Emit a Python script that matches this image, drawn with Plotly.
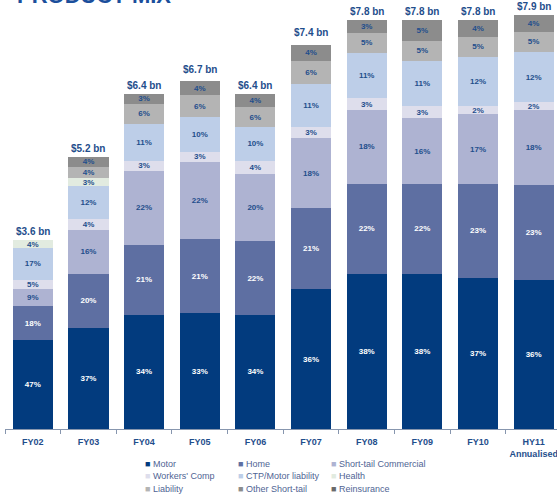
import plotly.graph_objects as go

categories = ["FY02", "FY03", "FY04", "FY05", "FY06", "FY07", "FY08", "FY09", "FY10", "HY11<br>Annualised"]
totals_bn = [3.6, 5.2, 6.4, 6.7, 6.4, 7.4, 7.8, 7.8, 7.8, 7.9]

series_names = ["Motor", "Home", "Short-tail Commercial", "Workers' Comp", "CTP/Motor liability",
                "Health", "Liability", "Other Short-tail", "Reinsurance"]
motor = [47, 37, 34, 33, 34, 36, 38, 38, 37, 36]
home = [18, 20, 21, 21, 22, 21, 22, 22, 23, 23]
short_tail_commercial = [9, 16, 22, 22, 20, 18, 18, 16, 17, 18]
workers_comp = [5, 4, 3, 3, 4, 3, 3, 3, 2, 2]
ctp = [17, 12, 11, 10, 10, 11, 11, 11, 12, 12]
health = [4, 3, 0, 0, 0, 0, 0, 0, 0, 0]
liability = [0, 4, 6, 6, 6, 6, 5, 5, 5, 5]
other_short_tail = [0, 4, 3, 4, 4, 4, 3, 5, 4, 4]
reinsurance = [0, 0, 0, 0, 0, 0, 0, 0, 0, 0]

series_values = [motor, home, short_tail_commercial, workers_comp, ctp, health,
                 liability, other_short_tail, reinsurance]
colors = ["#023B7E", "#5E6FA2", "#AEB3D2", "#DEDEEC", "#BDCEE8", "#E2EBE0",
          "#B4B4B4", "#8C8C8C", "#6A6A6A"]
label_colors = ["#FFFFFF", "#FFFFFF"] + ["#1F4E8C"] * 7

FONT = "Liberation Sans, Arial, sans-serif"
DARK_BLUE = "#1F4E8C"

fig = go.Figure()
for name, vals, col, lcol in zip(series_names, series_values, colors, label_colors):
    heights = [v / 100 * t for v, t in zip(vals, totals_bn)]
    fig.add_trace(go.Bar(
        x=categories, y=heights, name=name,
        marker=dict(color=col, line=dict(width=0)),
        text=[f"{v}%" if v > 0 else "" for v in vals],
        textposition="inside", insidetextanchor="middle", textangle=0,
        constraintext="none",
        textfont=dict(family=FONT, size=8, color=lcol, weight="bold"),
        width=0.72, showlegend=False, hoverinfo="skip",
    ))

# total labels above bars
for c, t in zip(categories, totals_bn):
    fig.add_annotation(x=c, y=t, xref="x", yref="y", text=f"${t} bn", showarrow=False,
                       yanchor="bottom", yshift=1,
                       font=dict(family=FONT, size=10, color=DARK_BLUE, weight="bold"))

# title (cut off at top, as in reference)
fig.add_annotation(xref="paper", yref="paper", x=0.018, y=(429 - 10) / 420, xanchor="left",
                   yanchor="bottom", text="PRODUCT MIX", showarrow=False,
                   font=dict(family=FONT, size=22, color="#1B4F9C", weight="bold"))

# legend as a 3x3 grid of annotations
col_px = [143, 236, 329]
row_px = [464, 476, 489]
for i, name in enumerate(series_names):
    r, cidx = divmod(i, 3)
    fig.add_annotation(
        xref="paper", yref="paper",
        x=(col_px[cidx] - 5) / 552, y=(429 - row_px[r]) / 420,
        xanchor="left", yanchor="middle", showarrow=False,
        text=f'<span style="color:{colors[i]}">■</span> {name}',
        font=dict(family=FONT, size=9, color="#4F6494"),
    )

fig.update_layout(
    width=557, height=499,
    margin=dict(l=5, r=0, t=9, b=70),
    barmode="stack", bargap=0.28,
    plot_bgcolor="white", paper_bgcolor="white",
    showlegend=False, hovermode=False,
    font=dict(family=FONT),
)
fig.update_xaxes(
    type="category", range=[-0.5, 9.42],
    showline=True, linecolor="#8796AE", linewidth=1,
    ticks="outside", tickson="boundaries", ticklen=4, tickcolor="#8796AE",
    ticklabelstandoff=4,
    tickfont=dict(family=FONT, size=9, color=DARK_BLUE, weight="bold"),
    showgrid=False,
)
fig.update_yaxes(range=[0, 420 / 52.4], visible=False, showgrid=False)

fig.write_html("out.html")
